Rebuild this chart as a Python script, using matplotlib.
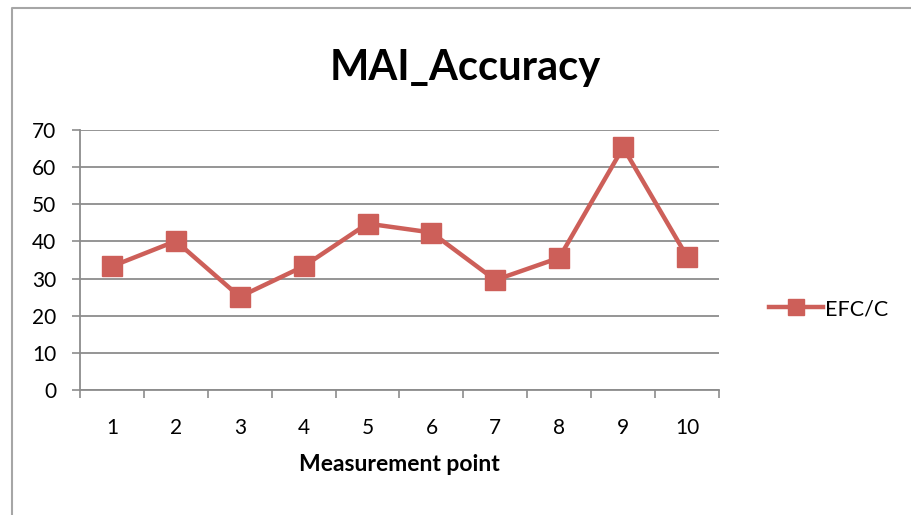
import matplotlib
matplotlib.use('Agg')
import matplotlib.pyplot as plt
from matplotlib.lines import Line2D
import numpy as np

# data
points = [1, 2, 3, 4, 5, 6, 7, 8, 9, 10]
efc_c = [33.3, 40.1, 25.1, 33.3, 44.8, 42.4, 29.6, 35.6, 65.3, 35.9]
y_ticks = [0, 10, 20, 30, 40, 50, 60, 70]

plt.rcParams['font.family'] = ['Lato', 'DejaVu Sans']

W, H = 912, 515
fig = plt.figure(figsize=(W / 100, H / 100), dpi=100)
fig.patch.set_facecolor('white')

# chart frame (top and left edges visible)
fig.add_artist(Line2D([12 / W, 12 / W, 1], [0, 1 - 8 / H, 1 - 8 / H],
                      transform=fig.transFigure, color='#a6a6a6', lw=1.5))

ax = fig.add_axes([80 / W, (H - 390) / H, 639 / W, 260 / H])
red = '#cd5f59'
line, = ax.plot(points, efc_c, color=red, lw=3.2, marker='s', markersize=14,
                markeredgecolor=red, markerfacecolor=red, label='EFC/C', zorder=3)

ax.set_xlim(0.5, 10.5)
ax.set_ylim(0, 70)
ax.set_yticks(y_ticks)
ax.set_xticks(points)
ax.set_xticks(np.arange(0.5, 11, 1), minor=True)
ax.tick_params(axis='x', which='major', length=0, pad=20, labelsize=15)
ax.tick_params(axis='x', which='minor', length=6, direction='out', color='#8c8c8c', width=1.2)
ax.tick_params(axis='y', length=6, direction='out', color='#8c8c8c', width=1.2, pad=11, labelsize=15)
ax.grid(axis='y', color='#8c8c8c', lw=1.3)
ax.set_axisbelow(True)
for s in ['top', 'right']:
    ax.spines[s].set_visible(False)
for s in ['left', 'bottom']:
    ax.spines[s].set_color('#8c8c8c')
    ax.spines[s].set_linewidth(1.3)

ax.set_xlabel('Measurement point', fontsize=16.5, fontweight='bold', labelpad=12)

fig.text(465 / W, 1 - 68 / H, 'MAI_Accuracy', fontsize=30, fontweight='bold',
         ha='center', va='center')

fig.legend(handles=[line], loc='center left', bbox_to_anchor=(758 / W, 1 - 309 / H),
           frameon=False, fontsize=15.5, handlelength=2.5, handletextpad=0.1,
           borderpad=0, markerscale=0.85)

fig.savefig('out.png', dpi=100)
